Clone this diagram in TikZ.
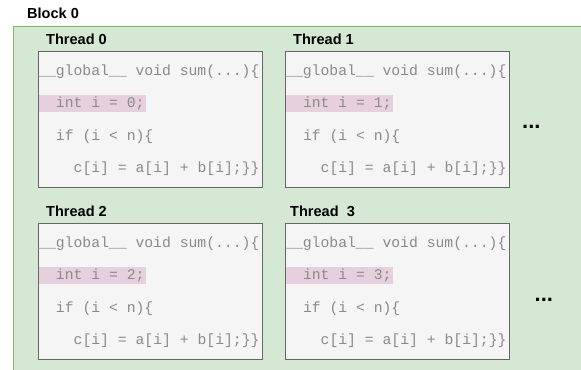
\documentclass[tikz,border=0pt]{standalone}
\usepackage{fontspec}
\setmainfont{Liberation Sans}
\setmonofont{Liberation Mono}

\definecolor{blockfill}{HTML}{D5E8D4}
\definecolor{blockline}{HTML}{82B366}
\definecolor{boxfill}{HTML}{F5F5F5}
\definecolor{boxline}{HTML}{666666}
\definecolor{hlpink}{HTML}{E6D0DE}
\definecolor{codegray}{HTML}{8A8A8A}

\begin{document}
\begin{tikzpicture}[x=1bp,y=-1bp,
    title/.style={font=\bfseries\fontsize{14.6}{16}\selectfont, anchor=base west, inner sep=0pt},
    thread/.style={draw=boxline, fill=boxfill, line width=1bp, anchor=north west,
                   minimum width=224bp, minimum height=136bp, inner sep=0pt},
    code/.style={font=\ttfamily\fontsize{14.8}{16}\selectfont, text=codegray, anchor=base west, inner sep=0pt},
    more/.style={font=\bfseries\fontsize{22}{24}\selectfont, anchor=base west, inner sep=0pt}]
            \useasboundingbox (0,0) rectangle (581,369);
            % block background
            \filldraw[fill=blockfill, draw=blockline, line width=1bp] (13,26) rectangle (600,390);
            \node[title] (block) at (27,18.5) {Block 0};
            % threads
            \foreach \i/\x/\y/\tx/\gap in {0/38/51/46/{ }, 1/285/51/293/{ }, 2/38/223/46/{ }, 3/285/223/290/{\ \ }} {
                \node[thread] (t\i) at (\x,\y) {};
                \node[title] (t\i-name) at (\tx,\y-6.7) {Thread\gap\i};
                \fill[hlpink] (\x+0.5,\y+44) rectangle (\x+108,\y+61);
                \node[code] (t\i-a) at (\x,\y+24.5) {\_\_global\_\_ void sum(...)\{};
                \node[code] (t\i-b) at (\x+17.8,\y+56.5) {int i = \i;};
                \node[code] (t\i-c) at (\x+17.8,\y+89) {if (i < n)\{};
                \node[code] (t\i-d) at (\x+35.5,\y+121) {c[i] = a[i] + b[i];\}\}};
            }
            \node[more] (dots-top) at (522,128.5) {...};
            \node[more] (dots-bot) at (534.5,301.5) {...};
        \end{tikzpicture}
\end{document}
